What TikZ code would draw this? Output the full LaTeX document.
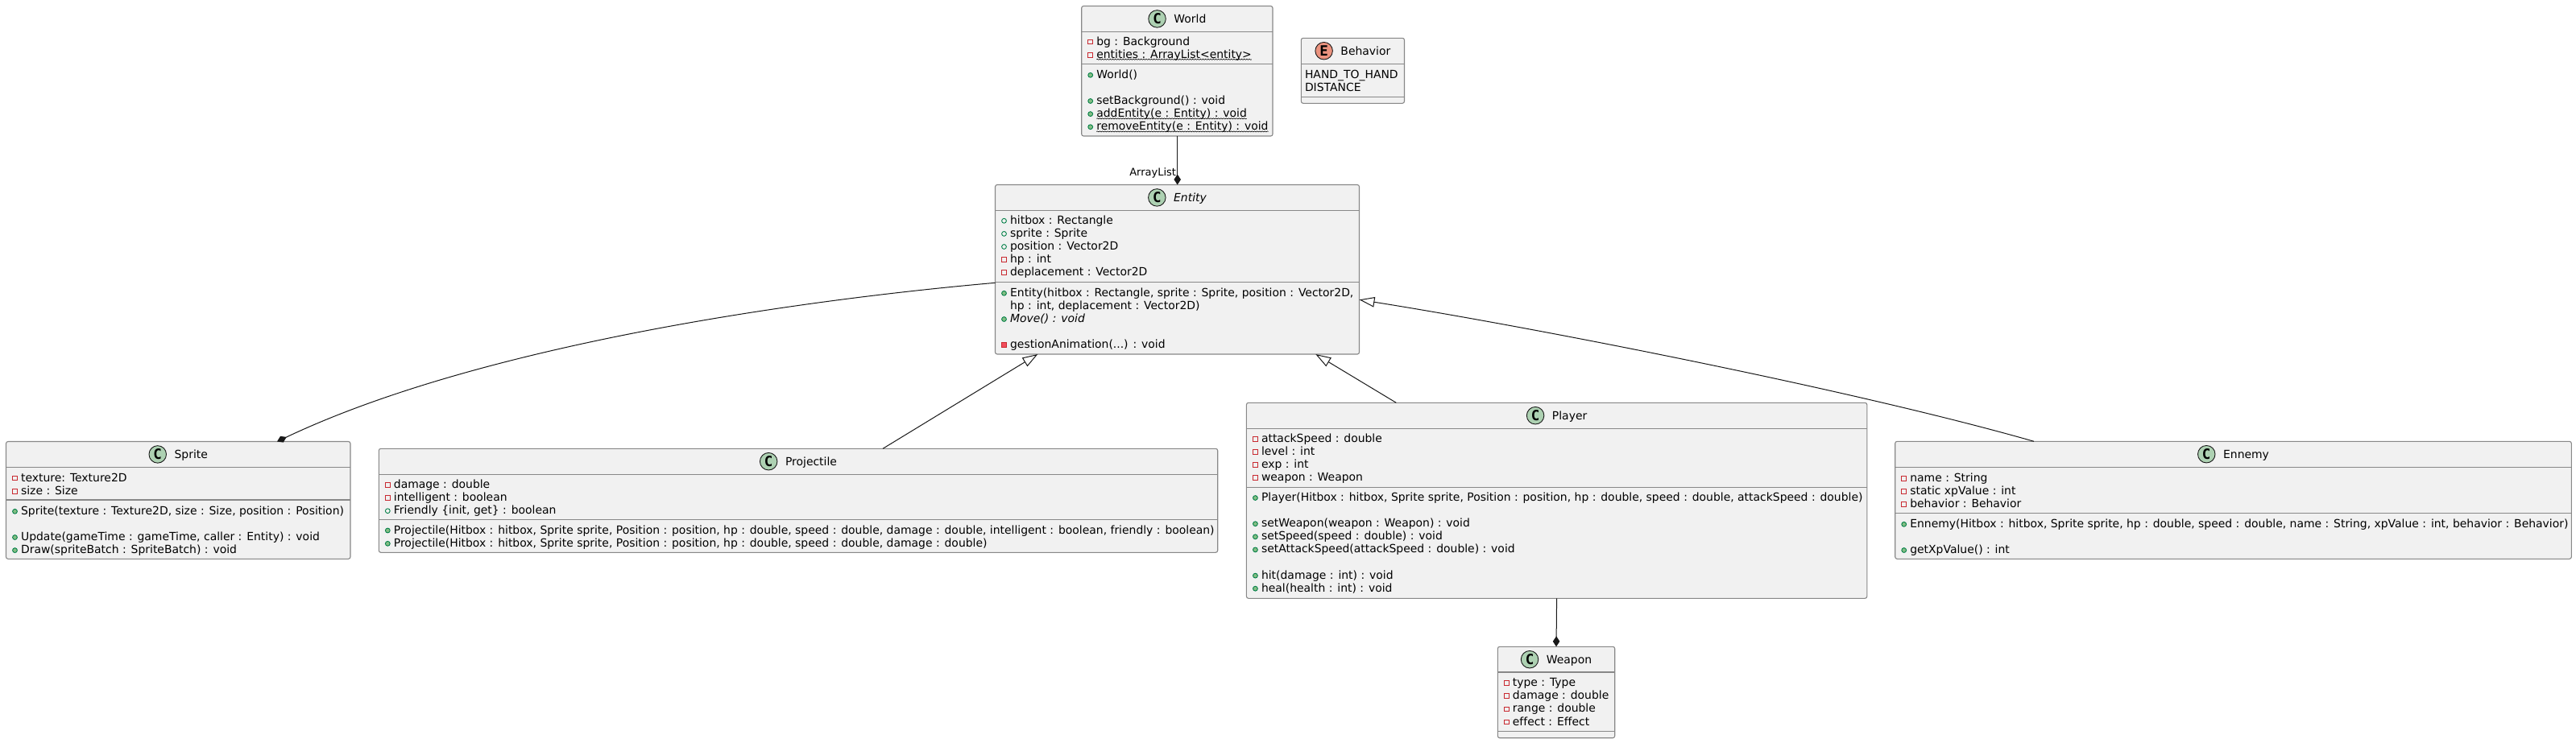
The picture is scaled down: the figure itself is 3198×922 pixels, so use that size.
\documentclass[tikz,border=0pt]{standalone}
\usepackage{fontspec}
\setmainfont{DejaVu Sans}[Ligatures=NoCommon]
\newfontfamily\iconfont{DejaVu Sans Mono}[BoldFont={DejaVu Sans Mono Bold}]
\usetikzlibrary{arrows.meta,decorations.pathmorphing}
\definecolor{boxfill}{HTML}{F1F1F1}
\definecolor{boxline}{HTML}{888888}
\definecolor{linkcol}{HTML}{181818}
\definecolor{classcirc}{HTML}{ADD1B2}
\definecolor{enumcirc}{HTML}{EB937F}
\definecolor{privcol}{HTML}{C82930}
\definecolor{privfill}{HTML}{F24D5C}
\definecolor{pubcol}{HTML}{038048}
\definecolor{pubfill}{HTML}{84BE84}
\newcounter{memb}
\tikzset{
  umlbox/.style={draw=boxline,fill=boxfill,line width=1.1pt,rounded corners=2.5pt,rectangle,anchor=north west,inner sep=0pt,outer sep=0pt},
  sepline/.style={draw=boxline,line width=1.1pt},
  memtext/.style={inner sep=0pt,outer sep=0pt,anchor=base west,font=\fontsize{13.93}{16}\selectfont,text=black},
  titletext/.style={inner sep=0pt,outer sep=0pt,anchor=base,font=\fontsize{13.93}{16}\selectfont,text=black},
  headicon/.style={circle,draw=linkcol,line width=0.9pt,minimum size=21.5pt,inner sep=0pt,outer sep=0pt,font=\iconfont\bfseries\fontsize{17.5}{18}\selectfont,text=black},
  fpriv/.style={rectangle,draw=privcol,fill=boxfill,line width=0.9pt,minimum size=5.8pt,inner sep=0pt},
  mpriv/.style={rectangle,draw=privcol,fill=privfill,line width=0.9pt,minimum size=5.8pt,inner sep=0pt},
  fpub/.style={circle,draw=pubcol,fill=boxfill,line width=0.9pt,minimum size=5.8pt,inner sep=0pt},
  mpub/.style={circle,draw=pubcol,fill=pubfill,line width=0.9pt,minimum size=5.8pt,inner sep=0pt},
  link/.style={draw=linkcol,line width=1pt},
  compo/.style={link,-{Diamond[length=13pt,width=8.5pt,fill=linkcol]}},
  inherit/.style={link,{Triangle[length=19pt,width=12.5pt,fill=white]}-},
  wave/.style={draw=black,line width=0.6pt,decorate,decoration={snake,amplitude=0.5pt,segment length=3.2pt}},
  linklabel/.style={inner sep=0pt,outer sep=0pt,anchor=base east,font=\fontsize{13}{15}\selectfont,text=black},
}
\newcommand{\umlcls}[7]{%
  \pgfmathsetmacro\bw{#3-#2}\pgfmathsetmacro\bh{#5-#4}%
  \node[umlbox,minimum width=\bw pt,minimum height=\bh pt] (#1) at (#2,#4) {};
  \draw[sepline] (#1.west |- 0,#6) -- (#1.east |- 0,#6);
  \draw[sepline] (#1.west |- 0,#7) -- (#1.east |- 0,#7);
}
% box, letter, colour, title
\newcommand{\umlhead}[4]{%
  \node[titletext] (#1title) at ([xshift=16pt,yshift=-20.7pt]#1.north) {#4};
  \node[headicon,fill=#3] (#1icon) at ([xshift=-20.85pt,yshift=-15.9pt]#1title.west |- #1.north) {#2};
}
% box, baseline, icon style, text
\newcommand{\mem}[4]{%
  \stepcounter{memb}%
  \node[memtext] (t\arabic{memb}) at ([xshift=18.6pt]#1.west |- 0,#2) {#4};
  \node[#3] (i\arabic{memb}) at ([xshift=11pt]#1.west |- 0,#2-4) {};
}
\newcommand{\memstatic}[4]{%
  \mem{#1}{#2}{#3}{#4}
  \draw[wave] ([yshift=-1.7pt]t\arabic{memb}.base west) -- ([yshift=-1.7pt]t\arabic{memb}.base east);
}
\newcommand{\memplain}[3]{%
  \stepcounter{memb}%
  \node[memtext] (t\arabic{memb}) at ([xshift=4.7pt]#1.west |- 0,#2) {#3};
}
\begin{document}
\begin{tikzpicture}[x=1pt,y=-1pt]
\useasboundingbox (0,0) rectangle (3198,922);

% World
\umlcls{world}{1342.7}{1580}{7.5}{169}{39.5}{79.5}
\umlhead{world}{C}{classcirc}{World}
\mem{world}{56}{fpriv}{bg : Background}
\memstatic{world}{72.1}{fpriv}{entities : ArrayList<entity>}
\mem{world}{97.3}{mpub}{World()}
\mem{world}{129.5}{mpub}{setBackground() : void}
\memstatic{world}{145.6}{mpub}{addEntity(e : Entity) : void}
\memstatic{world}{161.7}{mpub}{removeEntity(e : Entity) : void}

% Behavior
\umlcls{behavior}{1615.3}{1743.5}{47.3}{128.3}{79.4}{120.2}
\umlhead{behavior}{E}{enumcirc}{Behavior}
\memplain{behavior}{97.3}{HAND\_TO\_HAND}
\memplain{behavior}{113.4}{DISTANCE}

% Entity
\umlcls{entity}{1235.5}{1687.5}{229.5}{440}{261.7}{350.3}
\umlhead{entity}{C}{classcirc}{\itshape Entity}
\mem{entity}{278.3}{fpub}{hitbox : Rectangle}
\mem{entity}{294.4}{fpub}{sprite : Sprite}
\mem{entity}{310.5}{fpub}{position : Vector2D}
\mem{entity}{326.6}{fpriv}{hp : int}
\mem{entity}{342.7}{fpriv}{deplacement : Vector2D}
\mem{entity}{368.3}{mpub}{Entity(hitbox : Rectangle, sprite : Sprite, position : Vector2D,}
\stepcounter{memb}
\node[memtext] (t\arabic{memb}) at ([xshift=18.6pt]entity.west |- 0,384.4) {hp : int, deplacement : Vector2D)};
\mem{entity}{400.5}{mpub}{\itshape Move() : void}
\mem{entity}{432.7}{mpriv}{gestionAnimation(...) : void}

% Sprite
\umlcls{sprite}{7.5}{435}{548.5}{694.3}{580.3}{621}
\umlhead{sprite}{C}{classcirc}{Sprite}
\mem{sprite}{598}{fpriv}{texture: Texture2D}
\mem{sprite}{614.1}{fpriv}{size : Size}
\mem{sprite}{639.3}{mpub}{Sprite(texture : Texture2D, size : Size, position : Position)}
\mem{sprite}{671.5}{mpub}{Update(gameTime : gameTime, caller : Entity) : void}
\mem{sprite}{687.6}{mpub}{Draw(spriteBatch : SpriteBatch) : void}

% Projectile
\umlcls{projectile}{470.3}{1511.7}{557.3}{686.3}{589.3}{645.3}
\umlhead{projectile}{C}{classcirc}{Projectile}
\mem{projectile}{606.5}{fpriv}{damage : double}
\mem{projectile}{622.6}{fpriv}{intelligent : boolean}
\mem{projectile}{638.7}{fpub}{Friendly \{init, get\} : boolean}
\mem{projectile}{663}{mpub}{Projectile(Hitbox : hitbox, Sprite sprite, Position : position, hp : double, speed : double, damage : double, intelligent : boolean, friendly : boolean)}
\mem{projectile}{679.3}{mpub}{Projectile(Hitbox : hitbox, Sprite sprite, Position : position, hp : double, speed : double, damage : double)}

% Player
\umlcls{player}{1547.4}{2317.8}{500.3}{743.3}{532.3}{605.7}
\umlhead{player}{C}{classcirc}{Player}
\mem{player}{549.3}{fpriv}{attackSpeed : double}
\mem{player}{565.4}{fpriv}{level : int}
\mem{player}{581.5}{fpriv}{exp : int}
\mem{player}{597.6}{fpriv}{weapon : Weapon}
\mem{player}{622.5}{mpub}{Player(Hitbox : hitbox, Sprite sprite, Position : position, hp : double, speed : double, attackSpeed : double)}
\mem{player}{654.7}{mpub}{setWeapon(weapon : Weapon) : void}
\mem{player}{670.8}{mpub}{setSpeed(speed : double) : void}
\mem{player}{686.9}{mpub}{setAttackSpeed(attackSpeed : double) : void}
\mem{player}{719.1}{mpub}{hit(damage : int) : void}
\mem{player}{735.2}{mpub}{heal(health : int) : void}

% Ennemy
\umlcls{ennemy}{2352.7}{3192.3}{548.3}{694.3}{580.3}{637.3}
\umlhead{ennemy}{C}{classcirc}{Ennemy}
\mem{ennemy}{598.3}{fpriv}{name : String}
\mem{ennemy}{614.4}{fpriv}{static xpValue : int}
\mem{ennemy}{630.5}{fpriv}{behavior : Behavior}
\mem{ennemy}{655.3}{mpub}{Ennemy(Hitbox : hitbox, Sprite sprite, hp : double, speed : double, name : String, xpValue : int, behavior : Behavior)}
\mem{ennemy}{687.5}{mpub}{getXpValue() : int}

% Weapon
\umlcls{weapon}{1859.3}{2004.7}{803.3}{916.7}{835}{908.3}
\umlhead{weapon}{C}{classcirc}{Weapon}
\mem{weapon}{852.7}{fpriv}{type : Type}
\mem{weapon}{868.8}{fpriv}{damage : double}
\mem{weapon}{884.9}{fpriv}{range : double}
\mem{weapon}{901}{fpriv}{effect : Effect}

% Connectors
\draw[compo] ([xshift=.35pt]world.south) -- ([xshift=.2pt]entity.north);
\node[linklabel] (arraylabel) at ([xshift=-1.35pt,yshift=-49.3pt]world.south) {ArrayList};
\draw[compo] ([yshift=-16.55pt]entity.west) .. controls (1000,372) and (600,427) .. ([xshift=122.75pt]sprite.north);
\draw[inherit] ([xshift=-173.2pt]entity.south) -- ([xshift=105pt]projectile.north);
\draw[inherit] ([xshift=171.8pt]entity.south) -- ([xshift=-199.3pt]player.north);
\draw[inherit] ([yshift=-37.55pt]entity.east) .. controls (1900,406) and (2300,484) .. ([xshift=-247.5pt]ennemy.north);
\draw[compo] (player.south) -- (weapon.north);
\end{tikzpicture}
\end{document}
